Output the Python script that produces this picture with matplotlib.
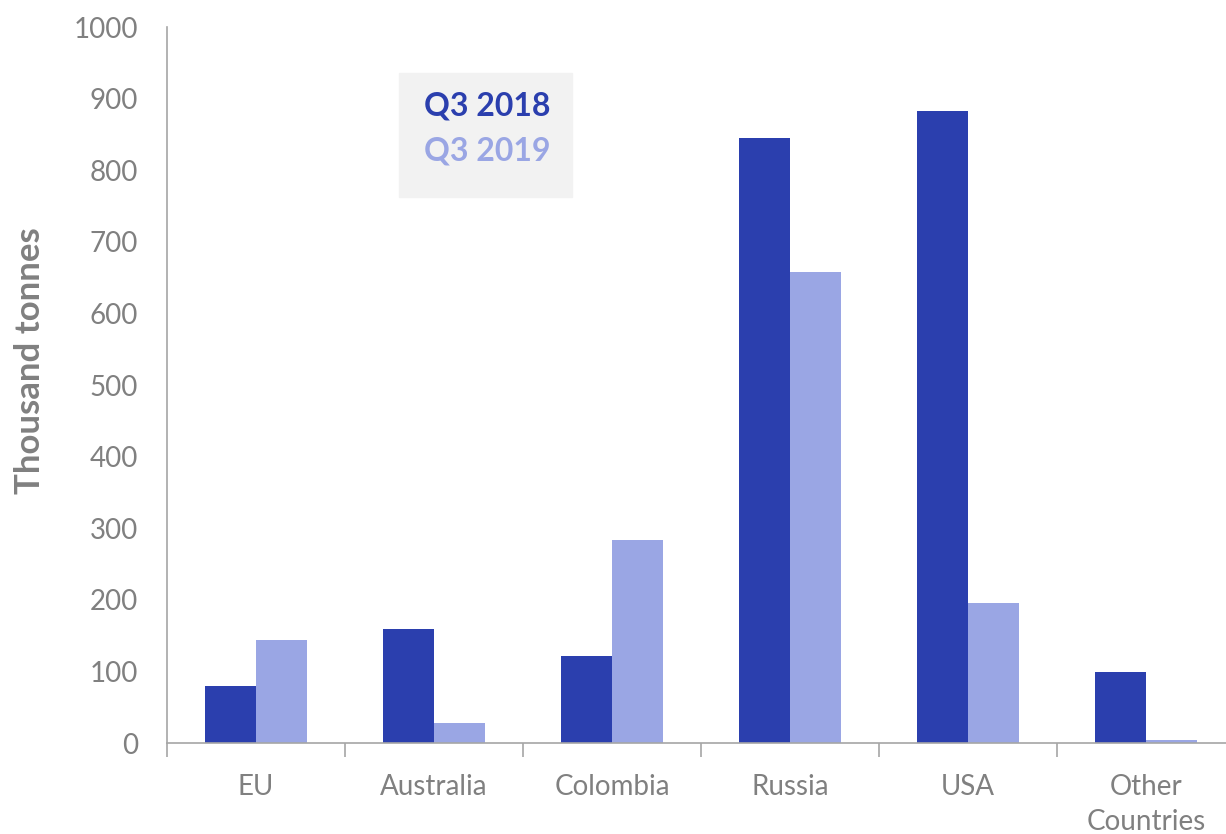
import numpy as np
import matplotlib
matplotlib.use('Agg')
import matplotlib.pyplot as plt
from matplotlib.patches import Rectangle

plt.rcParams['font.family'] = ['Lato', 'DejaVu Sans']

# data
countries = ['EU', 'Australia', 'Colombia', 'Russia', 'USA', 'Other\nCountries']
q3_2018 = [80, 159, 121, 845, 883, 99]
q3_2019 = [144, 28, 283, 658, 196, 4]
yticks = [0, 100, 200, 300, 400, 500, 600, 700, 800, 900, 1000]

dark = '#2B3FAE'
light = '#9AA6E4'
grey = '#808080'

fig = plt.figure(figsize=(12.26, 8.34), dpi=100)
# axes: x from 167px to 1235px, y from 743px (0) to 27px (1000)
ax = fig.add_axes([167/1226, (834-743)/834, (1235-167)/1226, (743-27)/834])

x = np.arange(len(countries))
w = 0.287
ax.bar(x - w/2, q3_2018, w, color=dark)
ax.bar(x + w/2, q3_2019, w, color=light)

ax.set_xlim(-0.5, len(countries) - 0.5)
ax.set_ylim(0, 1000)
ax.set_yticks(yticks)
ax.set_yticklabels([str(v) for v in yticks])
ax.tick_params(axis='y', length=0, pad=21, labelsize=20, labelcolor=grey)

ax.set_xticks(x)
ax.set_xticklabels(countries, linespacing=1.45)
ax.tick_params(axis='x', length=0, pad=22, labelsize=20, labelcolor=grey)
ax.set_xticks(np.arange(len(countries) + 1) - 0.5, minor=True)
ax.tick_params(axis='x', which='minor', length=10, width=1.2, color='#A6A6A6')
for lab in ax.get_xticklabels():
    lab.set_verticalalignment('top')

for s in ['top', 'right']:
    ax.spines[s].set_visible(False)
ax.spines['left'].set_color('#A6A6A6')
ax.spines['bottom'].set_color('#A6A6A6')
ax.spines['left'].set_linewidth(1.2)
ax.spines['bottom'].set_linewidth(1.2)

fig.text(30/1226, 1 - 361/834, 'Thousand tonnes', rotation=90, color=grey,
         fontsize=25, fontweight='bold', ha='center', va='center')

# legend box
fig.patches.append(Rectangle((399/1226, 1 - 197/834), (572-399)/1226, (197-73)/834,
                             transform=fig.transFigure, color='#F2F2F2', zorder=0))
fig.text(487/1226, 1 - 106/834, 'Q3 2018', color=dark, fontsize=23,
         fontweight='bold', ha='center', va='center')
fig.text(487/1226, 1 - 151/834, 'Q3 2019', color=light, fontsize=23,
         fontweight='bold', ha='center', va='center')

plt.savefig('out.png', dpi=100)
